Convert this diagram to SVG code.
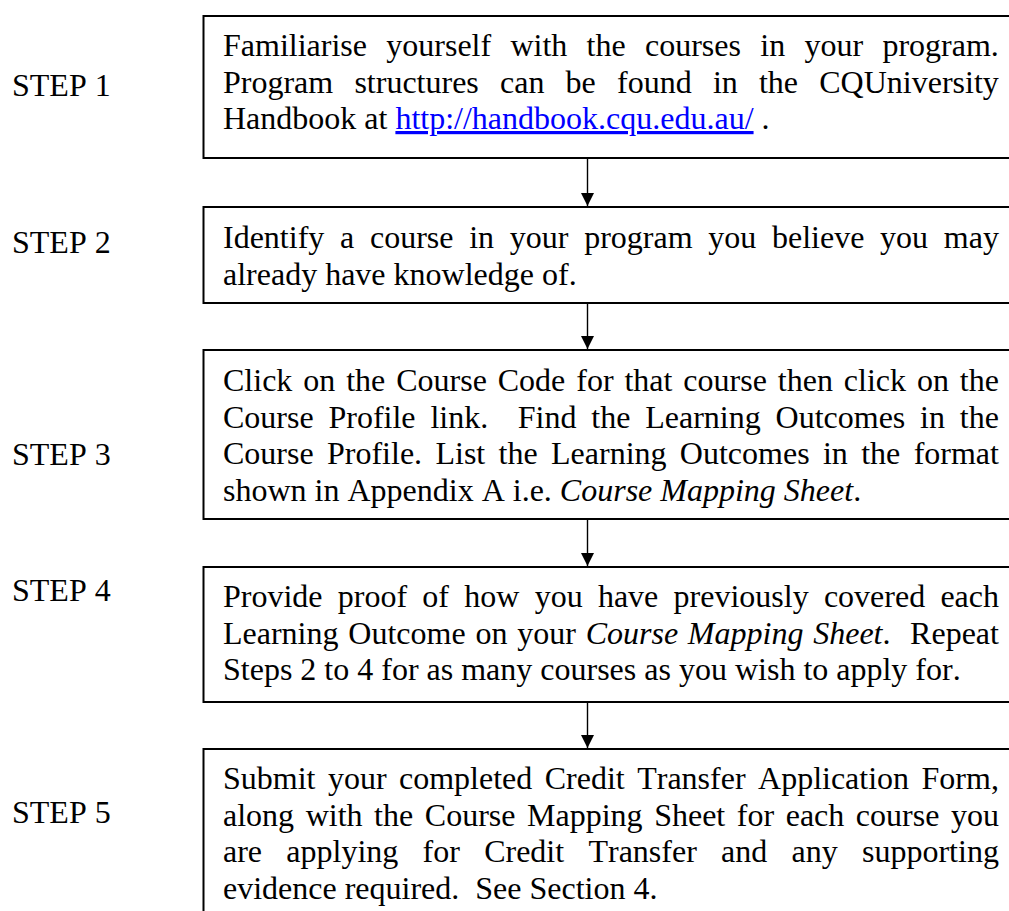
<svg xmlns="http://www.w3.org/2000/svg" width="1009" height="911" viewBox="0 0 1009 911">
<style>
text { font-family: "Liberation Serif", "Times New Roman", serif; font-size: 32px; fill: #000; font-kerning: none; white-space: pre; }
.box { fill: #fff; stroke: #000; stroke-width: 2; }
.conn { stroke: #000; stroke-width: 1.4; fill: none; marker-end: url(#arr); }
.i { font-style: italic; }
.link { fill: #0000ff; text-decoration: underline; }
</style>
<defs>
<marker id="arr" viewBox="0 0 10 10" refX="10" refY="5" markerUnits="userSpaceOnUse" markerWidth="13" markerHeight="13" orient="auto">
<path d="M0,0 L10,5 L0,10 z" fill="#000"/>
</marker>
</defs>
<rect width="1009" height="911" fill="#fff"/>

<g id="labels">
<text x="12" y="96">STEP 1</text>
<text x="12" y="253">STEP 2</text>
<text x="12" y="465">STEP 3</text>
<text x="12" y="601">STEP 4</text>
<text x="12" y="823">STEP 5</text>
</g>

<g id="connectors">
<line class="conn" x1="587.5" y1="159" x2="587.5" y2="206"/>
<line class="conn" x1="587.5" y1="304" x2="587.5" y2="349"/>
<line class="conn" x1="587.5" y1="520" x2="587.5" y2="566"/>
<line class="conn" x1="587.5" y1="703" x2="587.5" y2="748"/>
</g>

<g id="step1">
<rect class="box" x="203.5" y="16" width="820" height="142"/>
<text x="223" y="56" word-spacing="11.3">Familiarise yourself with the courses in your program.</text>
<text x="223" y="92.5" word-spacing="13.2">Program structures can be found in the CQUniversity</text>
<text x="223" y="129">Handbook at <tspan class="link">http://handbook.cqu.edu.au/</tspan> .</text>
</g>

<g id="step2">
<rect class="box" x="203.5" y="207" width="820" height="96"/>
<text x="223" y="248" word-spacing="7.72">Identify a course in your program you believe you may</text>
<text x="223" y="284.5">already have knowledge of.</text>
</g>

<g id="step3">
<rect class="box" x="203.5" y="350" width="820" height="169"/>
<text x="223" y="391" word-spacing="2.92">Click on the Course Code for that course then click on the</text>
<text x="223" y="427.5" word-spacing="6.82">Course Profile link.  Find the Learning Outcomes in the</text>
<text x="223" y="464" word-spacing="5.35">Course Profile. List the Learning Outcomes in the format</text>
<text x="223" y="500.5">shown in Appendix A i.e. <tspan class="i">Course Mapping Sheet</tspan>.</text>
</g>

<g id="step4">
<rect class="box" x="203.5" y="567" width="820" height="135"/>
<text x="223" y="607" word-spacing="7.25">Provide proof of how you have previously covered each</text>
<text x="223" y="643.5" word-spacing="1.79">Learning Outcome on your <tspan class="i">Course Mapping Sheet</tspan>.  Repeat</text>
<text x="223" y="680">Steps 2 to 4 for as many courses as you wish to apply for.</text>
</g>

<g id="step5">
<rect class="box" x="203.5" y="749" width="820" height="200"/>
<text x="223" y="789" word-spacing="4.45">Submit your completed Credit Transfer Application Form,</text>
<text x="223" y="825.5" word-spacing="3.57">along with the Course Mapping Sheet for each course you</text>
<text x="223" y="862" word-spacing="16.27">are applying for Credit Transfer and any supporting</text>
<text x="223" y="898.5">evidence required.  See Section 4.</text>
</g>
</svg>
